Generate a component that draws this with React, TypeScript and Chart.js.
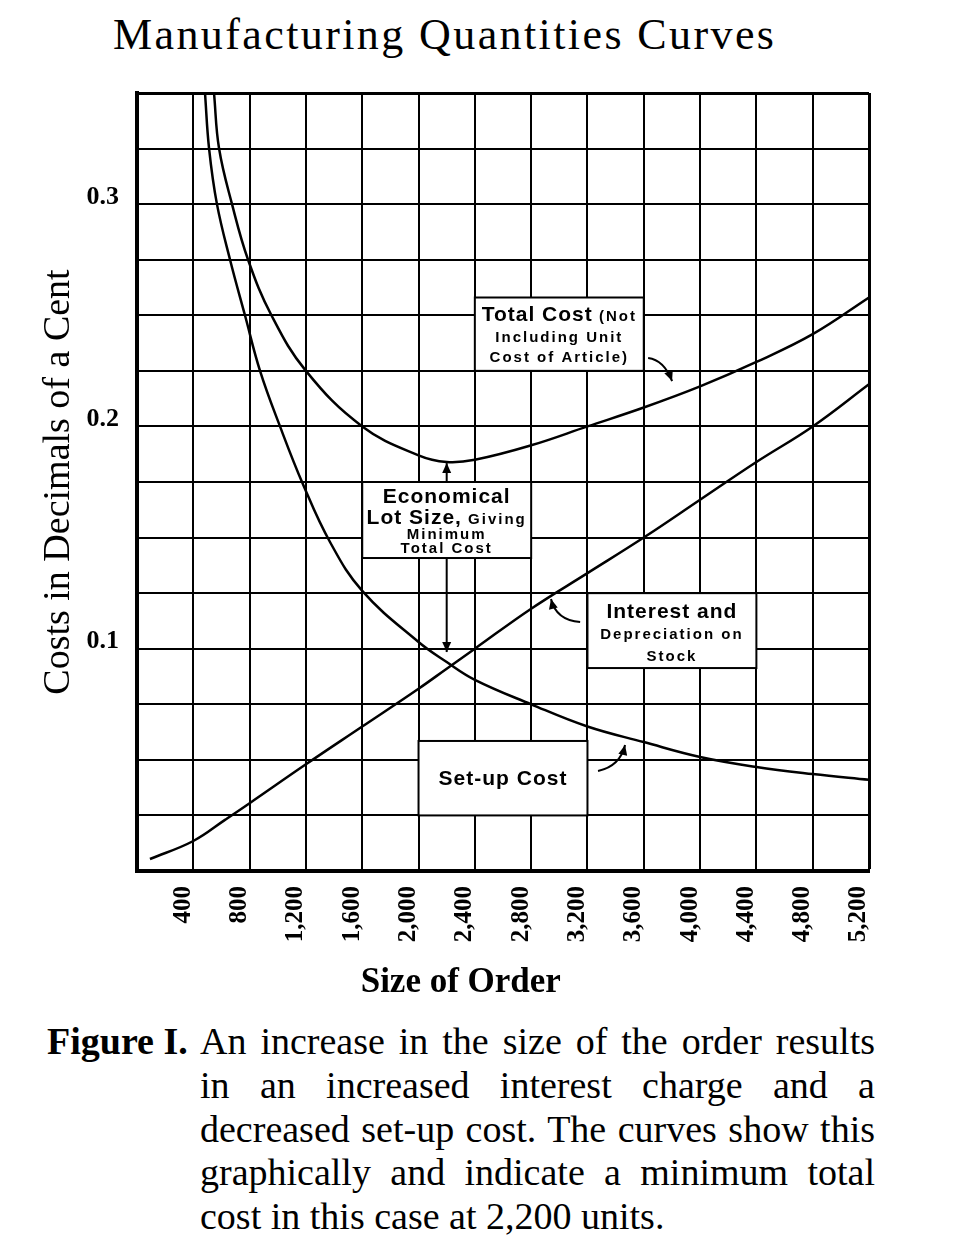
import React, { useEffect, useRef } from "react";
import { Chart, registerables } from "chart.js";

Chart.register(...registerables);

// ---------------- data ----------------
const setupSizes = [483, 512, 568, 661, 767, 874, 1016, 1179, 1371, 1600, 2000, 2200, 2400, 2800, 3200, 3600, 4000, 4400, 4800, 5200];
const setupCosts = [0.35, 0.325, 0.3, 0.275, 0.25, 0.225, 0.2, 0.174, 0.148, 0.126, 0.103, 0.094, 0.086, 0.075, 0.065, 0.058, 0.0513, 0.0468, 0.0436, 0.041];

const interestSizes = [92, 400, 625, 800, 1200, 1600, 2000, 2200, 2400, 2800, 3200, 3600, 4000, 4400, 4800, 5200];
const interestCosts = [0.0054, 0.0135, 0.023, 0.0305, 0.048, 0.065, 0.082, 0.091, 0.1, 0.118, 0.134, 0.15, 0.167, 0.184, 0.2, 0.219];

const totalSizes = [547, 583, 675, 789, 955, 1200, 1600, 2000, 2200, 2400, 2800, 3200, 3600, 4000, 4400, 4800, 5200];
const totalCosts = [0.35, 0.325, 0.3, 0.275, 0.25, 0.225, 0.2, 0.187, 0.184, 0.185, 0.1915, 0.2, 0.2085, 0.218, 0.229, 0.2415, 0.258];

const xTickValues = [400, 800, 1200, 1600, 2000, 2400, 2800, 3200, 3600, 4000, 4400, 4800, 5200];
const xTickLabels = ["400", "800", "1,200", "1,600", "2,000", "2,400", "2,800", "3,200", "3,600", "4,000", "4,400", "4,800", "5,200"];
const yTickValues = [0.1, 0.2, 0.3];
const yTickLabels = ["0.1", "0.2", "0.3"];

const chartTitle = "Manufacturing Quantities Curves";
const yAxisTitle = "Costs in Decimals of a Cent";
const xAxisTitle = "Size of Order";
const figureLabel = "Figure I.";
const captionLines = [
  "An increase in the size of the order results",
  "in an increased interest charge and a",
  "decreased set-up cost. The curves show this",
  "graphically and indicate a minimum total",
  "cost in this case at 2,200 units.",
];

// ---------------- annotation layout (in data units) ----------------
const noteBoxes = [
  [2400, 3600, 0.225, 0.258],
  [1600, 2800, 0.1408, 0.175],
  [3200, 4400, 0.0913, 0.125],
  [2000, 3200, 0.025, 0.0585],
];

const noteLines: { x: number; y: number; parts: [string, boolean][] }[] = [
  { x: 3000, y: 0.251, parts: [["Total Cost", true], [" (Not", false]] },
  { x: 3000, y: 0.2402, parts: [["Including Unit", false]] },
  { x: 3000, y: 0.2312, parts: [["Cost of Article)", false]] },
  { x: 2200, y: 0.1691, parts: [["Economical", true]] },
  { x: 2200, y: 0.1593, parts: [["Lot Size,", true], [" Giving", false]] },
  { x: 2200, y: 0.1516, parts: [["Minimum", false]] },
  { x: 2200, y: 0.1453, parts: [["Total Cost", false]] },
  { x: 3800, y: 0.1174, parts: [["Interest and", true]] },
  { x: 3800, y: 0.1066, parts: [["Depreciation on", false]] },
  { x: 3800, y: 0.0967, parts: [["Stock", false]] },
  { x: 2600, y: 0.0423, parts: [["Set-up Cost", true]] },
];

const noteArrows: { from: number[]; ctrl: number[] | null; to: number[] }[] = [
  { from: [3631, 0.2308], ctrl: [3744, 0.2299], to: [3801, 0.2204] },
  { from: [3148, 0.112], ctrl: [2977, 0.1129], to: [2941, 0.1224] },
  { from: [3275, 0.045], ctrl: [3432, 0.0472], to: [3467, 0.0567] },
  { from: [2200, 0.175], ctrl: null, to: [2200, 0.1835] },
  { from: [2200, 0.1408], ctrl: null, to: [2200, 0.0985] },
];

const BIG_SIZE = 21;
const SMALL_SIZE = 15;
const NOTE_FAMILY = '"Liberation Sans", Arial, sans-serif';
const SERIF = '"Liberation Serif", "Times New Roman", serif';

const notesPlugin = {
  id: "notes",
  beforeDatasetsDraw(chart: any) {
    const { ctx, scales } = chart;
    const xs = scales.x;
    const ys = scales.y;
    ctx.save();
    for (const [x0, x1, y0, y1] of noteBoxes) {
      const l = xs.getPixelForValue(x0);
      const r = xs.getPixelForValue(x1);
      const t = ys.getPixelForValue(y1);
      const b = ys.getPixelForValue(y0);
      ctx.fillStyle = "#fff";
      ctx.fillRect(l, t, r - l, b - t);
      ctx.strokeStyle = "#000";
      ctx.lineWidth = 2;
      ctx.strokeRect(l, t, r - l, b - t);
    }
    ctx.fillStyle = "#000";
    ctx.textAlign = "left";
    ctx.textBaseline = "alphabetic";
    for (const line of noteLines) {
      let maxSize = 0;
      const measured = line.parts.map(([t, big]) => {
        const size = big ? BIG_SIZE : SMALL_SIZE;
        maxSize = Math.max(maxSize, size);
        ctx.font = `bold ${size}px ${NOTE_FAMILY}`;
        ctx.letterSpacing = big ? "1px" : "2px";
        return { t, big, size, w: ctx.measureText(t).width };
      });
      const total = measured.reduce((s, m) => s + m.w, 0);
      let px = xs.getPixelForValue(line.x) - total / 2;
      const base = ys.getPixelForValue(line.y) + maxSize * 0.36;
      for (const m of measured) {
        ctx.font = `bold ${m.size}px ${NOTE_FAMILY}`;
        ctx.letterSpacing = m.big ? "1px" : "2px";
        ctx.fillText(m.t, px, base);
        px += m.w;
      }
    }
    ctx.letterSpacing = "0px";
    ctx.restore();
  },
  afterDatasetsDraw(chart: any) {
    const { ctx, scales } = chart;
    const xs = scales.x;
    const ys = scales.y;
    ctx.save();
    ctx.strokeStyle = "#000";
    ctx.fillStyle = "#000";
    ctx.lineWidth = 2;
    for (const a of noteArrows) {
      const fx = xs.getPixelForValue(a.from[0]);
      const fy = ys.getPixelForValue(a.from[1]);
      const tx = xs.getPixelForValue(a.to[0]);
      const ty = ys.getPixelForValue(a.to[1]);
      let cx = fx;
      let cy = fy;
      ctx.beginPath();
      ctx.moveTo(fx, fy);
      if (a.ctrl) {
        cx = xs.getPixelForValue(a.ctrl[0]);
        cy = ys.getPixelForValue(a.ctrl[1]);
        ctx.quadraticCurveTo(cx, cy, tx, ty);
      } else {
        ctx.lineTo(tx, ty);
      }
      ctx.stroke();
      const dx = tx - cx;
      const dy = ty - cy;
      const len = Math.hypot(dx, dy) || 1;
      const ux = dx / len;
      const uy = dy / len;
      const hl = 10;
      const hw = 4.5;
      ctx.beginPath();
      ctx.moveTo(tx, ty);
      ctx.lineTo(tx - ux * hl - uy * hw, ty - uy * hl + ux * hw);
      ctx.lineTo(tx - ux * hl + uy * hw, ty - uy * hl - ux * hw);
      ctx.closePath();
      ctx.fill();
    }
    ctx.restore();
  },
  afterDraw(chart: any) {
    const { ctx, scales } = chart;
    const xs = scales.x;
    ctx.save();
    ctx.fillStyle = "#000";
    ctx.font = `bold 35px ${SERIF}`;
    ctx.textAlign = "center";
    ctx.textBaseline = "middle";
    ctx.fillText(xAxisTitle, xs.getPixelForValue(2300), xs.top + 112);
    ctx.restore();
  },
};

const lineStyle = {
  borderColor: "#000",
  backgroundColor: "#000",
  borderWidth: 2.5,
  pointRadius: 0,
  fill: false,
  tension: 0.4,
};

export default function App() {
  const ref = useRef<HTMLCanvasElement>(null);

  useEffect(() => {
    if (!ref.current) return;
    const chart = new Chart(ref.current, {
      type: "line",
      data: {
        datasets: [
          { label: "Set-up Cost", data: setupSizes.map((x, i) => ({ x, y: setupCosts[i] })), ...lineStyle },
          { label: "Interest and Depreciation on Stock", data: interestSizes.map((x, i) => ({ x, y: interestCosts[i] })), ...lineStyle },
          { label: "Total Cost", data: totalSizes.map((x, i) => ({ x, y: totalCosts[i] })), ...lineStyle },
        ],
      },
      options: {
        responsive: false,
        animation: false,
        devicePixelRatio: 1,
        events: [],
        layout: { padding: { top: 93, right: 89, bottom: 0, left: 0 } },
        plugins: {
          legend: { display: false },
          title: { display: false },
          tooltip: { enabled: false },
        },
        scales: {
          x: {
            type: "linear",
            min: 0,
            max: 5200,
            afterFit: (axis: any) => {
              axis.height = 129;
              axis.paddingLeft = 0;
              axis.paddingRight = 0;
            },
            ticks: {
              stepSize: 400,
              autoSkip: false,
              minRotation: 90,
              maxRotation: 90,
              padding: 15,
              labelOffset: -10,
              color: "#000",
              font: { family: SERIF, size: 25, weight: "bold" },
              callback: (v: any) => {
                const i = xTickValues.indexOf(Number(v));
                return i >= 0 ? xTickLabels[i] : "";
              },
            },
            grid: {
              color: "#000",
              drawTicks: false,
              lineWidth: (c: any) => (c.tick && c.tick.value === 5200 ? 3 : 2),
            },
            border: { display: true, color: "#000", width: 4 },
          },
          y: {
            type: "linear",
            min: 0,
            max: 0.35,
            afterFit: (axis: any) => {
              axis.width = 137;
              axis.paddingTop = 0;
              axis.paddingBottom = 0;
            },
            ticks: {
              stepSize: 0.025,
              autoSkip: false,
              padding: 18,
              labelOffset: -7,
              color: "#000",
              font: { family: SERIF, size: 26, weight: "bold" },
              callback: (v: any) => {
                const i = yTickValues.findIndex((t) => Math.abs(t - Number(v)) < 1e-6);
                return i >= 0 ? yTickLabels[i] : "";
              },
            },
            grid: {
              color: "#000",
              drawTicks: false,
              lineWidth: (c: any) => (c.tick && Math.abs(c.tick.value - 0.35) < 1e-6 ? 3 : 2),
            },
            border: { display: true, color: "#000", width: 4 },
            title: {
              display: true,
              text: yAxisTitle,
              color: "#000",
              font: { family: SERIF, size: 38, weight: "normal" },
              padding: { top: 36, bottom: 0 },
            },
          },
        },
      },
      plugins: [notesPlugin],
    } as any);
    return () => chart.destroy();
  }, []);

  const lastIdx = captionLines.length - 1;

  return (
    <div
      style={{
        position: "absolute",
        left: 0,
        top: 0,
        width: 958,
        height: 1250,
        background: "#fff",
        color: "#000",
        fontFamily: SERIF,
        overflow: "hidden",
      }}
    >
      <div
        style={{
          position: "absolute",
          left: 113,
          top: 13,
          fontSize: 44,
          lineHeight: "44px",
          letterSpacing: "2.4px",
          whiteSpace: "nowrap",
        }}
      >
        {chartTitle}
      </div>
      <canvas ref={ref} width={958} height={1000} style={{ position: "absolute", left: 0, top: 0 }} />
      <div
        style={{
          position: "absolute",
          left: 47,
          top: 1020,
          fontSize: 38,
          lineHeight: "43.75px",
          fontWeight: "bold",
          whiteSpace: "nowrap",
        }}
      >
        {figureLabel}
      </div>
      <div
        style={{
          position: "absolute",
          left: 200,
          top: 1020,
          width: 675,
          fontSize: 38,
          lineHeight: "43.75px",
        }}
      >
        {captionLines.map((l, i) => (
          <div
            key={i}
            style={{
              textAlign: i < lastIdx ? "justify" : "left",
              textAlignLast: i < lastIdx ? "justify" : "left",
            }}
          >
            {l}
          </div>
        ))}
      </div>
    </div>
  );
}
